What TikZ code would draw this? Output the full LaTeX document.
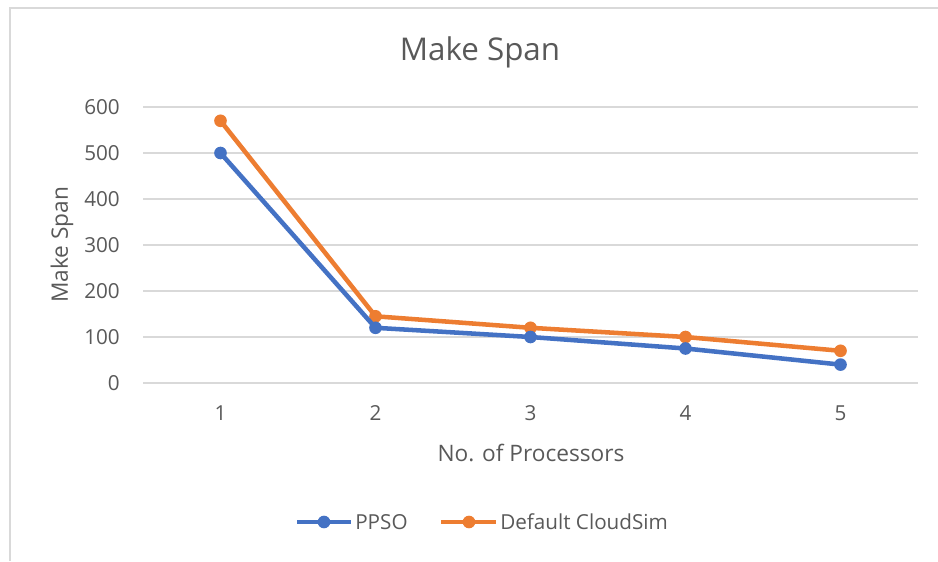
\documentclass[tikz,border=0pt]{standalone}
\usepackage{fontspec}
\setmainfont{Open Sans}
\definecolor{ppso}{HTML}{4472C4}
\definecolor{cloudsim}{HTML}{ED7D31}
\definecolor{txt}{HTML}{595959}
\definecolor{gridc}{HTML}{D9D9D9}
\tikzset{
  series/.style={line width=3.4pt, line join=round, line cap=round},
  dot/.style={circle, inner sep=0pt, minimum size=9.5pt, fill=#1},
  ticklbl/.style={text=txt, font=\fontsize{15.5}{18}\selectfont, inner sep=0pt},
  axistitle/.style={text=txt, font=\fontsize{17}{20}\selectfont, inner sep=0pt},
  legendlbl/.style={text=txt, font=\fontsize{15.5}{18}\selectfont, inner sep=0pt, anchor=west},
}
\begin{document}
\begin{tikzpicture}[x=0.75pt, y=-0.75pt,
  declare function={px(\i)=220.5+155*(\i-1); py(\v)=383-0.46*\v;}]
\useasboundingbox (0,0) rectangle (938,561);

% chart frame (left and top edges)
\draw[gridc, line width=0.9pt] (10,561) -- (10,8) -- (938,8);

% title
\node[text=txt, font=\fontsize{23.5}{28}\selectfont, inner sep=0pt] (title) at (480,52) {Make Span};

% horizontal gridlines and value labels
\foreach \v in {0,100,...,600} {
  \draw[gridc, line width=1.4pt] (143,{py(\v)}) -- (918,{py(\v)});
  \node[ticklbl, anchor=east] (y\v) at (120,{py(\v)}) {\v};
}

% category labels
\foreach \i in {1,...,5} {
  \node[ticklbl] (x\i) at ({px(\i)},413) {\i};
}

% axis titles
\node[axistitle, rotate=90] (ytitle) at (62,245) {Make Span};
\node[axistitle] (xtitle) at (531,453) {No. of Processors};

% data points
\foreach \i/\a/\b in {1/500/570, 2/120/145, 3/100/120, 4/75/100, 5/40/70} {
  \coordinate (p\i) at ({px(\i)},{py(\a)});
  \coordinate (c\i) at ({px(\i)},{py(\b)});
}

% Default CloudSim series
\draw[series, cloudsim] (c1) -- (c2) -- (c3) -- (c4) -- (c5);
\foreach \i in {1,...,5} \node[dot=cloudsim] (cm\i) at (c\i) {};

% PPSO series
\draw[series, ppso] (p1) -- (p2) -- (p3) -- (p4) -- (p5);
\foreach \i in {1,...,5} \node[dot=ppso] (pm\i) at (p\i) {};

% legend
\coordinate (lpa) at (297,522);
\coordinate (lpb) at (351,522);
\draw[series, ppso, line cap=butt] (lpa) -- (lpb);
\node[dot=ppso] (lpm) at (324,522) {};
\node[legendlbl] (lpt) at (355,522) {PPSO};

\coordinate (lca) at (441,522);
\coordinate (lcb) at (496,522);
\draw[series, cloudsim, line cap=butt] (lca) -- (lcb);
\node[dot=cloudsim] (lcm) at (469,522) {};
\node[legendlbl] (lct) at (500,522) {Default CloudSim};
\end{tikzpicture}
\end{document}
